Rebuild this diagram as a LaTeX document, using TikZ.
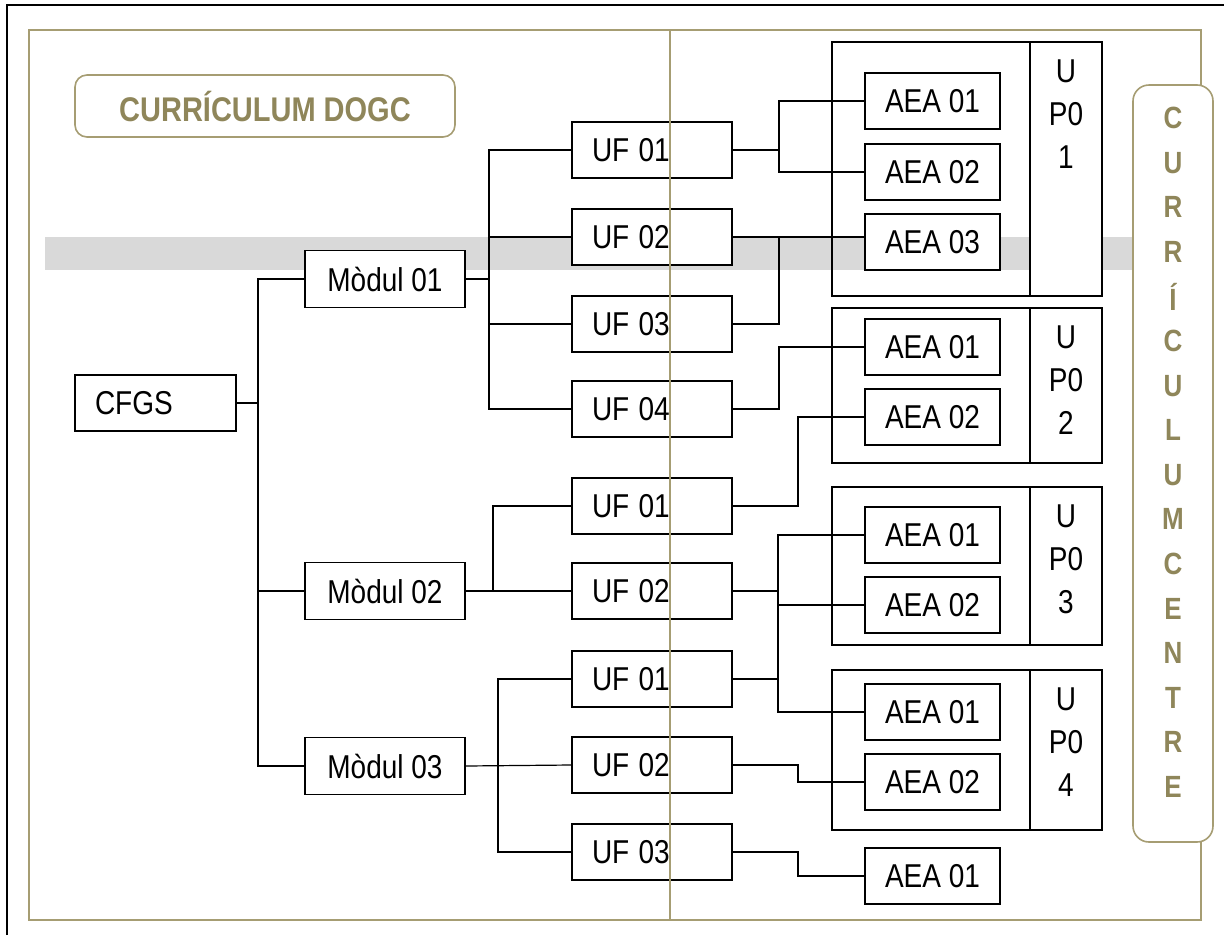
\documentclass[tikz,border=0pt]{standalone}
\usepackage{fontspec}
\setmainfont{Liberation Sans}
\usepackage[HTML]{xcolor}
\usepackage{graphicx}
\usepackage{tikz}
\usetikzlibrary{positioning}
\definecolor{gold}{HTML}{A69D73}
\definecolor{goldtext}{HTML}{8F865A}
\definecolor{band}{HTML}{D9D9D9}
\newcommand{\tall}[1]{\scalebox{1}[1.18]{#1}}

\begin{document}
\begin{tikzpicture}[x=1pt,y=-1pt,
  box/.style={draw,line width=1.4pt,fill=white,minimum height=56pt,inner sep=0pt,font=\fontsize{28}{30}\selectfont},
  ufbox/.style={box,minimum width=160pt,text width=120pt,align=left},
  modbox/.style={box,minimum width=160pt,minimum height=57pt},
  aeabox/.style={box,minimum width=135pt},
  upbox/.style={draw,line width=1.4pt,minimum width=270pt,inner sep=0pt},
  upcol/.style={draw,line width=1.4pt,fill=white,minimum width=72pt,inner sep=0pt},
  uplbl/.style={align=center,inner sep=0pt,font=\fontsize{28}{43}\selectfont},
  link/.style={line width=1.2pt},
  goldbox/.style={draw=gold,line width=1.6pt,fill=white,rounded corners=12pt,inner sep=0pt}]
\useasboundingbox (0,0) rectangle (1224,935);
\fill[band] (45,237) rectangle (1135,270);
\draw[line width=1.6pt] (7,935) -- (7,5) -- (1224,5);
\draw[gold,line width=1.6pt] (29,30) rectangle (1201,920);

\node[goldbox,minimum width=380pt,minimum height=62pt,font=\fontsize{29}{30}\selectfont\bfseries,text=goldtext] (dogc) at (265,106) {\tall{CURRÍCULUM DOGC}};

\node[box,minimum width=161pt,text width=121pt,align=left] (cfgs) at (155.5,403) {\tall{CFGS}};
\node[modbox] (m1) at (385,279) {\tall{Mòdul 01}};
\node[modbox] (m2) at (385,591) {\tall{Mòdul 02}};
\node[modbox] (m3) at (385,766) {\tall{Mòdul 03}};

\node[ufbox] (u11) at (652,150) {\tall{UF 01}};
\node[ufbox] (u12) at (652,237) {\tall{UF 02}};
\node[ufbox] (u13) at (652,324) {\tall{UF 03}};
\node[ufbox] (u14) at (652,409) {\tall{UF 04}};
\node[ufbox] (u21) at (652,506) {\tall{UF 01}};
\node[ufbox] (u22) at (652,591) {\tall{UF 02}};
\node[ufbox] (u31) at (652,679) {\tall{UF 01}};
\node[ufbox] (u32) at (652,765) {\tall{UF 02}};
\node[ufbox] (u33) at (652,852) {\tall{UF 03}};

\node[upbox,minimum height=254pt] (up1) at (967,169) {};
\node[upcol,minimum height=254pt,anchor=north east] (up1c) at (up1.north east) {};
\node[uplbl,anchor=north] (up1t) at ([yshift=-18pt]up1c.north) {\tall{U}\\\tall{P0}\\\tall{1}};
\node[upbox,minimum height=155pt] (up2) at (967,385.5) {};
\node[upcol,minimum height=155pt,anchor=north east] (up2c) at (up2.north east) {};
\node[uplbl,anchor=north] (up2t) at ([yshift=-18pt]up2c.north) {\tall{U}\\\tall{P0}\\\tall{2}};
\node[upbox,minimum height=158pt] (up3) at (967,566) {};
\node[upcol,minimum height=158pt,anchor=north east] (up3c) at (up3.north east) {};
\node[uplbl,anchor=north] (up3t) at ([yshift=-18pt]up3c.north) {\tall{U}\\\tall{P0}\\\tall{3}};
\node[upbox,minimum height=160pt] (up4) at (967,750) {};
\node[upcol,minimum height=160pt,anchor=north east] (up4c) at (up4.north east) {};
\node[uplbl,anchor=north] (up4t) at ([yshift=-18pt]up4c.north) {\tall{U}\\\tall{P0}\\\tall{4}};

\node[aeabox] (a11) at (932.5,101) {\tall{AEA 01}};
\node[aeabox] (a12) at (932.5,172) {\tall{AEA 02}};
\node[aeabox] (a13) at (932.5,242) {\tall{AEA 03}};
\node[aeabox] (a21) at (932.5,347) {\tall{AEA 01}};
\node[aeabox] (a22) at (932.5,417) {\tall{AEA 02}};
\node[aeabox] (a31) at (932.5,535) {\tall{AEA 01}};
\node[aeabox] (a32) at (932.5,605) {\tall{AEA 02}};
\node[aeabox] (a41) at (932.5,712) {\tall{AEA 01}};
\node[aeabox] (a42) at (932.5,782) {\tall{AEA 02}};
\node[aeabox] (a51) at (932.5,876) {\tall{AEA 01}};

\coordinate (t0) at (258,0);
\coordinate (t1) at (489,0);
\coordinate (t2) at (493,0);
\coordinate (t3) at (498,0);
\coordinate (r1) at (779,0);
\coordinate (r2) at (798,0);
\coordinate (r3) at (778,0);

\draw[link] (cfgs.east) -- (cfgs.east -| t0);
\draw[link] (m1.west) -| (t0 |- m3) -- (m3.west);
\draw[link] (t0 |- m2) -- (m2.west);

\draw[link] (m1.east) -- (m1.east -| t1);
\draw[link] (u11.west) -| (t1 |- u14) -- (u14.west);
\draw[link] (t1 |- u12) -- (u12.west);
\draw[link] (t1 |- u13) -- (u13.west);

\draw[link] (m2.east) -- (u22.west);
\draw[link] (u21.west) -| (t2 |- u22);

\draw[link] (m3.east) -- (u32.west);
\draw[link] (u31.west) -| (t3 |- u33) -- (u33.west);

\draw[link] (u11.east) -- (u11.east -| r1);
\draw[link] (a11.west) -| (r1 |- a12) -- (a12.west);
\draw[link] (u12.east) -- (u12.east -| a13.west);
\draw[link] (u13.east) -| (r1 |- u12);
\draw[link] (u14.east) -| (r1 |- a21) -- (a21.west);
\draw[link] (u21.east) -| (r2 |- a22) -- (a22.west);
\draw[link] (u22.east) -- (u22.east -| r3);
\draw[link] (u31.east) -- (u31.east -| r3);
\draw[link] (a31.west) -| (r3 |- a41) -- (a41.west);
\draw[link] (r3 |- a32) -- (a32.west);
\draw[link] (u32.east) -| (r2 |- a42) -- (a42.west);
\draw[link] (u33.east) -| (r2 |- a51) -- (a51.west);

\draw[gold,line width=1.6pt] (670,30) -- (670,920);

\node[goldbox,minimum width=80pt,minimum height=757pt,rounded corners=16pt] (centre) at (1173,463.5) {};
\foreach \l [count=\i from 0] in {C,U,R,R,Í,C,U,L,U,M,C,E,N,T,R,E}
  \node[text=goldtext,inner sep=0pt,font=\fontsize{26}{28}\selectfont\bfseries] (c\i) at (1173,118+44.6*\i) {\tall{\l}};
\end{tikzpicture}
\end{document}
